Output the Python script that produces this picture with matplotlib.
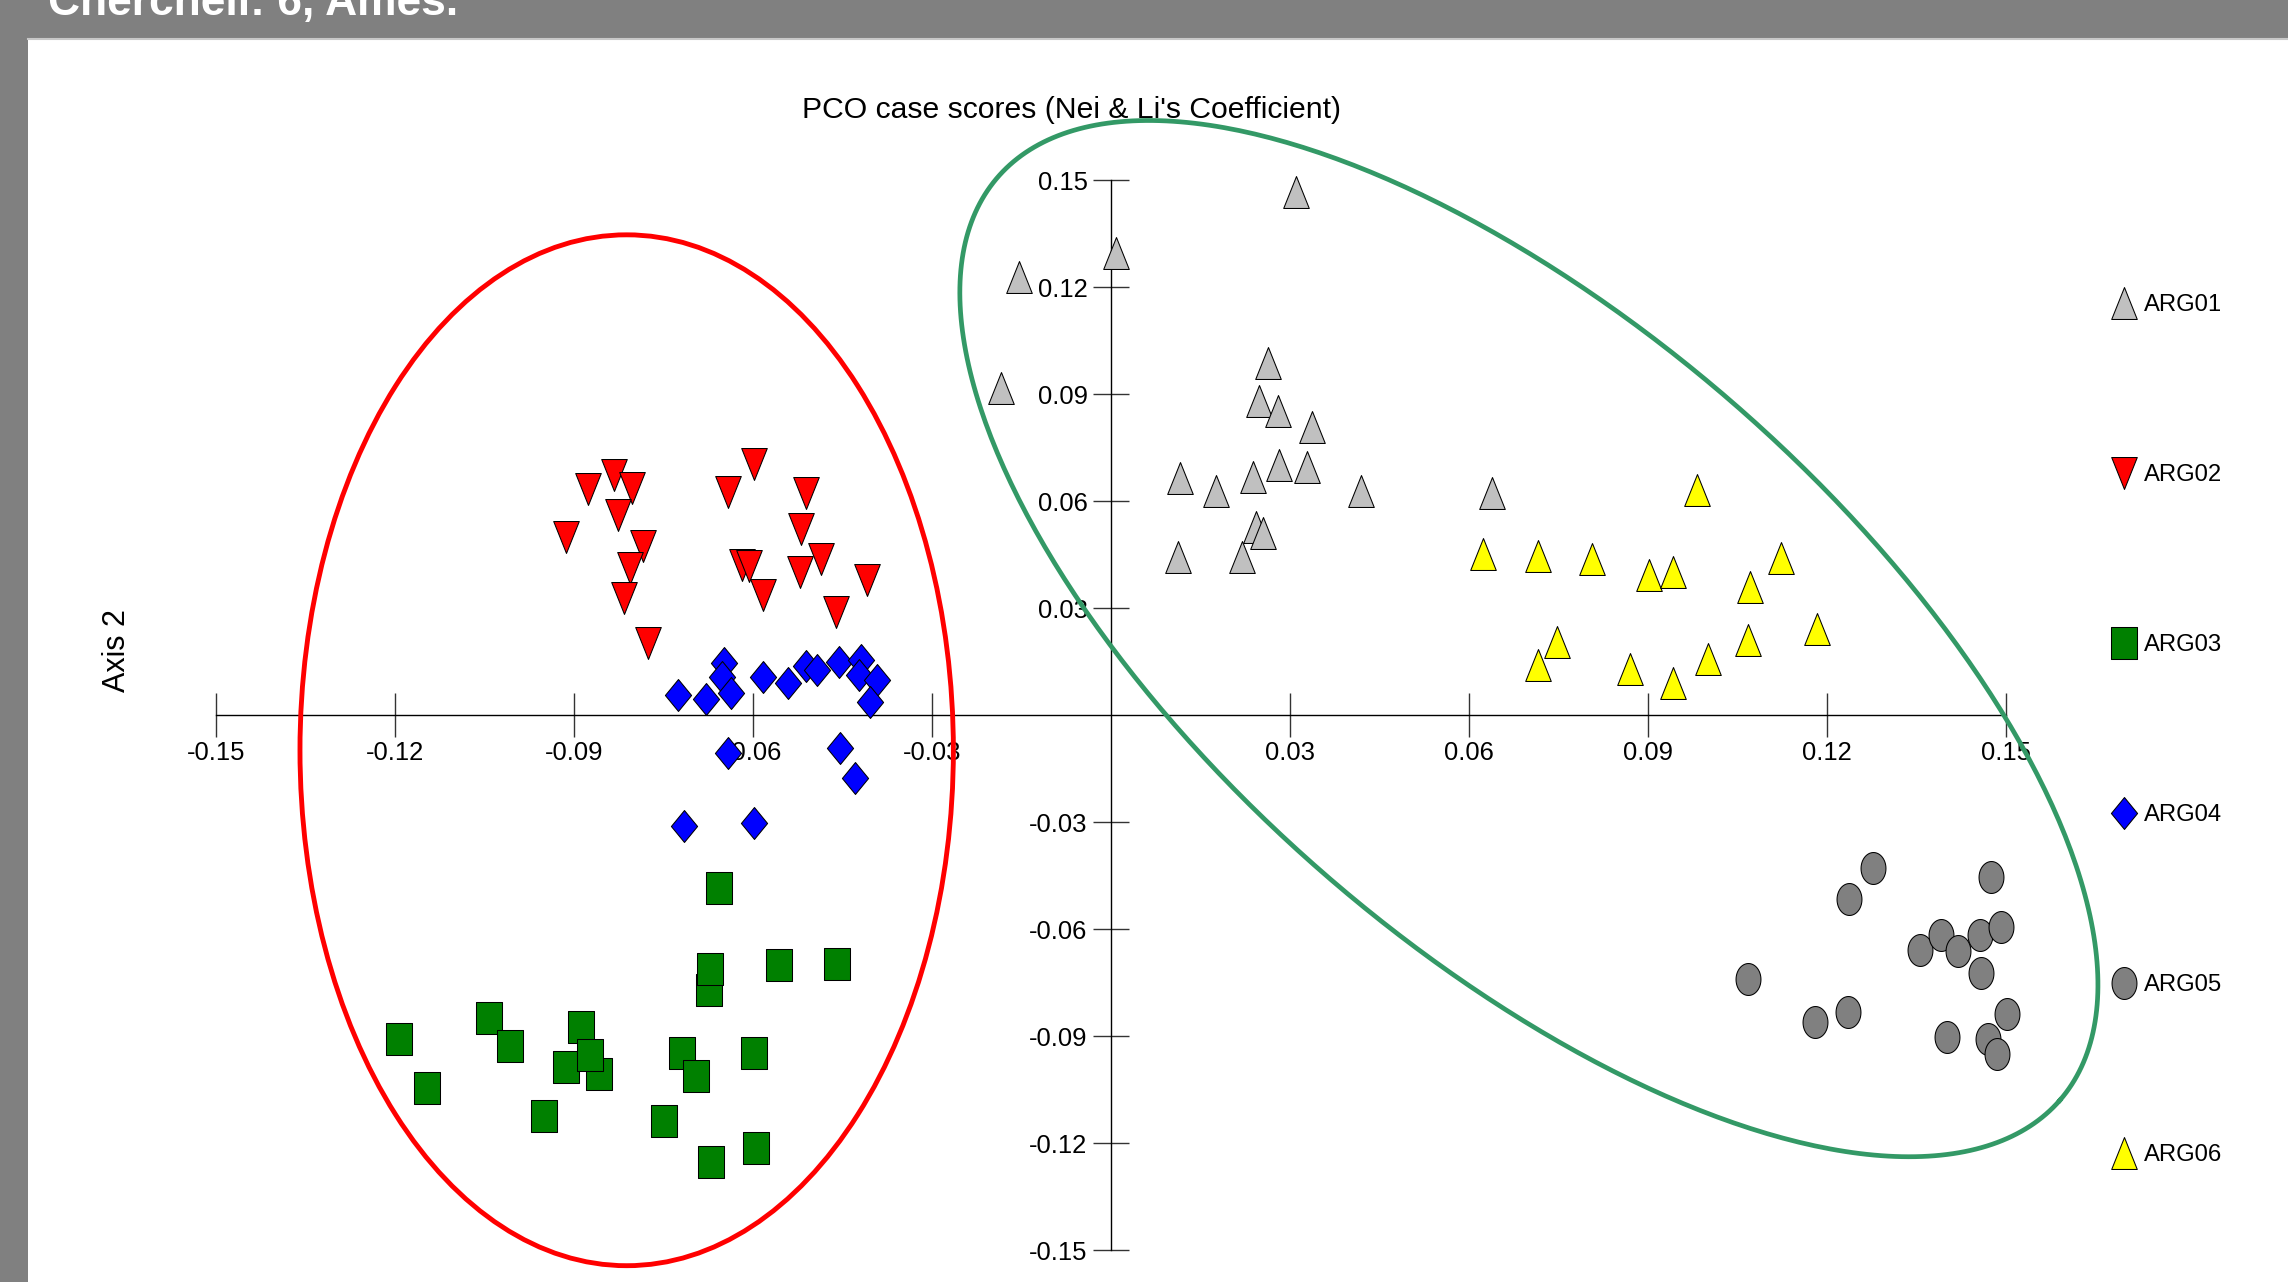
import numpy as np
import matplotlib
matplotlib.use("Agg")
import matplotlib.pyplot as plt
from matplotlib import font_manager as fm
from matplotlib.path import Path
from matplotlib.patches import Rectangle, Ellipse
from matplotlib.lines import Line2D

# ---------------- data ----------------
arg01_x = [0.0310, 0.0008, -0.0154, -0.0185, 0.0263, 0.0248, 0.0280, 0.0336, 0.0282, 0.0328,
           0.0237, 0.0116, 0.0175, 0.0419, 0.0243, 0.0254, 0.0112, 0.0220, 0.0638]
arg01_y = [0.1467, 0.1295, 0.1228, 0.0917, 0.0989, 0.0881, 0.0854, 0.0809, 0.0702, 0.0697,
           0.0669, 0.0665, 0.0630, 0.0630, 0.0529, 0.0512, 0.0445, 0.0443, 0.0622]

arg02_x = [-0.0877, -0.0833, -0.0803, -0.0827, -0.0913, -0.0785, -0.0807, -0.0816, -0.0777, -0.0642,
           -0.0598, -0.0511, -0.0520, -0.0619, -0.0607, -0.0486, -0.0521, -0.0583, -0.0409, -0.0461]
arg02_y = [0.0634, 0.0673, 0.0636, 0.0561, 0.0500, 0.0474, 0.0412, 0.0329, 0.0203, 0.0627,
           0.0704, 0.0623, 0.0523, 0.0420, 0.0418, 0.0439, 0.0403, 0.0337, 0.0380, 0.0290]

arg03_x = [-0.0657, -0.0674, -0.0673, -0.0556, -0.0460, -0.1193, -0.1042, -0.1007, -0.0889, -0.0913,
           -0.0859, -0.0873, -0.1147, -0.0720, -0.0695, -0.0599, -0.0950, -0.0750, -0.0596, -0.0670]
arg03_y = [-0.0485, -0.0770, -0.0712, -0.0701, -0.0697, -0.0908, -0.0848, -0.0927, -0.0873, -0.0986,
           -0.1006, -0.0951, -0.1045, -0.0947, -0.1010, -0.0947, -0.1124, -0.1137, -0.1212, -0.1253]

arg04_x = [-0.0726, -0.0679, -0.0649, -0.0652, -0.0638, -0.0584, -0.0541, -0.0512, -0.0493, -0.0456,
           -0.0420, -0.0422, -0.0392, -0.0404, -0.0643, -0.0454, -0.0430, -0.0716, -0.0599]
arg04_y = [0.0056, 0.0047, 0.0148, 0.0107, 0.0063, 0.0106, 0.0091, 0.0138, 0.0128, 0.0150,
           0.0156, 0.0112, 0.0098, 0.0037, -0.0105, -0.0093, -0.0175, -0.0310, -0.0301]

arg05_x = [0.1277, 0.1236, 0.1475, 0.1355, 0.1390, 0.1419, 0.1456, 0.1491, 0.1458, 0.1067,
           0.1234, 0.1179, 0.1501, 0.1400, 0.1470, 0.1485]
arg05_y = [-0.0428, -0.0514, -0.0452, -0.0658, -0.0617, -0.0660, -0.0617, -0.0594, -0.0722, -0.0739,
           -0.0831, -0.0861, -0.0837, -0.0901, -0.0907, -0.0950]

arg06_x = [0.0982, 0.0623, 0.0716, 0.0805, 0.0901, 0.0941, 0.1122, 0.1070, 0.1183, 0.1067,
           0.1001, 0.0747, 0.0716, 0.0869, 0.0942]
arg06_y = [0.0632, 0.0452, 0.0447, 0.0438, 0.0392, 0.0401, 0.0442, 0.0359, 0.0241, 0.0211,
           0.0157, 0.0206, 0.0140, 0.0130, 0.0091]

group_labels = ["ARG01", "ARG02", "ARG03", "ARG04", "ARG05", "ARG06"]
tick_values = [-0.15, -0.12, -0.09, -0.06, -0.03, 0.03, 0.06, 0.09, 0.12, 0.15]
tick_labels = ["-0.15", "-0.12", "-0.09", "-0.06", "-0.03", "0.03", "0.06", "0.09", "0.12", "0.15"]
title_text = "PCO case scores (Nei & Li's Coefficient)"
header_text = "Cherchell: 6, Ames."
ylabel_text = "Axis 2"

# ---------------- fonts ----------------
def has_font(name):
    try:
        fm.findfont(fm.FontProperties(family=name), fallback_to_default=False)
        return True
    except Exception:
        return False

if has_font("Liberation Sans Narrow"):
    NARROW = "Liberation Sans Narrow"
    k = 1.0
else:
    NARROW = "Liberation Sans"
    k = 0.82
REG = "Liberation Sans"
plt.rcParams["font.family"] = [NARROW, "DejaVu Sans"]

# ---------------- markers (slightly tall, as in the reference) ----------------
def poly(v):
    v = list(v) + [v[0]]
    codes = [Path.MOVETO] + [Path.LINETO] * (len(v) - 2) + [Path.CLOSEPOLY]
    return Path(v, codes)

tri_up = poly([(-0.40, -0.5), (0.40, -0.5), (0.0, 0.5)])
tri_dn = poly([(-0.40, 0.5), (0.40, 0.5), (0.0, -0.5)])
rect = poly([(-0.41, -0.5), (0.41, -0.5), (0.41, 0.5), (-0.41, 0.5)])
diam = poly([(0.0, 0.5), (0.41, 0.0), (0.0, -0.5), (-0.41, 0.0)])
tt = np.linspace(0, 2 * np.pi, 60, endpoint=False)
oval = poly([(0.39 * np.cos(a), 0.5 * np.sin(a)) for a in tt])

# ---------------- figure ----------------
W, H = 2288, 1282
fig = plt.figure(figsize=(W / 100, H / 100), dpi=100)
fig.patch.set_facecolor("#808080")
fig.add_artist(Rectangle((28 / W, 0), 1, (H - 39) / H, transform=fig.transFigure,
                         facecolor="white", edgecolor="none", zorder=-10))
fig.add_artist(Line2D([28 / W, 1], [(H - 39) / H] * 2, transform=fig.transFigure,
                      color="#c8c8c8", lw=1.5, zorder=-9))
fig.text(48 / W, 1 - 15 / H, header_text, color="white", fontweight="bold",
         fontsize=39 * k, ha="left", va="baseline", family=[NARROW, "DejaVu Sans"])

# axes mapping: x0 at 1111.2 px, 5967 px/unit; y0 at 715.3 px from top, 3567 px/unit
SX, SY = 5967.0, 3567.0
X0, Y0 = 1111.2, H - 715.3
xl, yl = 0.17, 0.17
ax = fig.add_axes([(X0 - xl * SX) / W, (Y0 - yl * SY) / H, 2 * xl * SX / W, 2 * yl * SY / H])
ax.set_xlim(-xl, xl)
ax.set_ylim(-yl, yl)
ax.patch.set_visible(False)

for s in ["top", "right"]:
    ax.spines[s].set_visible(False)
ax.spines["left"].set_position(("data", 0))
ax.spines["bottom"].set_position(("data", 0))
ax.spines["left"].set_bounds(-0.15, 0.15)
ax.spines["bottom"].set_bounds(-0.15, 0.15)
for s in ["left", "bottom"]:
    ax.spines[s].set_linewidth(1.0)
    ax.spines[s].set_color("black")

ax.set_xticks(tick_values)
ax.set_xticklabels(tick_labels)
ax.set_yticks(tick_values)
ax.set_yticklabels(tick_labels)
ax.tick_params(axis="x", direction="inout", length=31.7, width=1.0, color="#333333",
               pad=3.0, labelsize=22.5 * k)
ax.tick_params(axis="y", direction="inout", length=26, width=1.0, color="#333333",
               pad=4.0, labelsize=22.5 * k)

ms = 23.0
mew = 0.75
series = [
    (arg01_x, arg01_y, tri_up, "#c0c0c0"),
    (arg02_x, arg02_y, tri_dn, "#ff0000"),
    (arg03_x, arg03_y, rect, "#008000"),
    (arg04_x, arg04_y, diam, "#0000ff"),
    (arg05_x, arg05_y, oval, "#808080"),
    (arg06_x, arg06_y, tri_up, "#ffff00"),
]
handles = []
for (xs, ys, mk, col), lab in zip(series, group_labels):
    h, = ax.plot(xs, ys, linestyle="none", marker=mk, markersize=ms, markerfacecolor=col,
                 markeredgecolor="black", markeredgewidth=mew, label=lab, zorder=3, clip_on=False)
    handles.append(h)

# group ellipses
ax.add_patch(Ellipse((-0.0812, -0.0098), 0.1095, 0.289, fill=False, edgecolor="#ff0000",
                     lw=3.5, zorder=4, clip_on=False))
a_px, b_px, th = 703.6, 311.8, np.deg2rad(41.0)
t = np.linspace(0, 2 * np.pi, 400)
ex = 0.0700 + (a_px * np.cos(t) * np.cos(th) - b_px * np.sin(t) * np.sin(th)) / SX
ey = 0.0215 - (a_px * np.cos(t) * np.sin(th) + b_px * np.sin(t) * np.cos(th)) / SY
ax.plot(ex, ey, color="#339966", lw=3.4, zorder=4, clip_on=False)

# titles
fig.text(1071.8 / W, 1 - 118 / H, title_text, ha="center", va="baseline",
         fontsize=26.5 * k, color="black")
fig.text(116.7 / W, 1 - 651 / H, ylabel_text, rotation=90, ha="center", va="center",
         fontsize=22, color="black", family=[REG, "DejaVu Sans"])

# legend
fsz = 21 * k
fpx = fsz * 100 / 72
leg = fig.legend(handles, group_labels, loc="upper left",
                 bbox_to_anchor=(2111 / W, 1 - 294 / H), bbox_transform=fig.transFigure,
                 frameon=False, borderpad=0, borderaxespad=0, numpoints=1,
                 handlelength=26 / fpx, handletextpad=7 / fpx, labelspacing=6.19,
                 fontsize=fsz)

fig.savefig("out.png", dpi=100, facecolor=fig.get_facecolor())
